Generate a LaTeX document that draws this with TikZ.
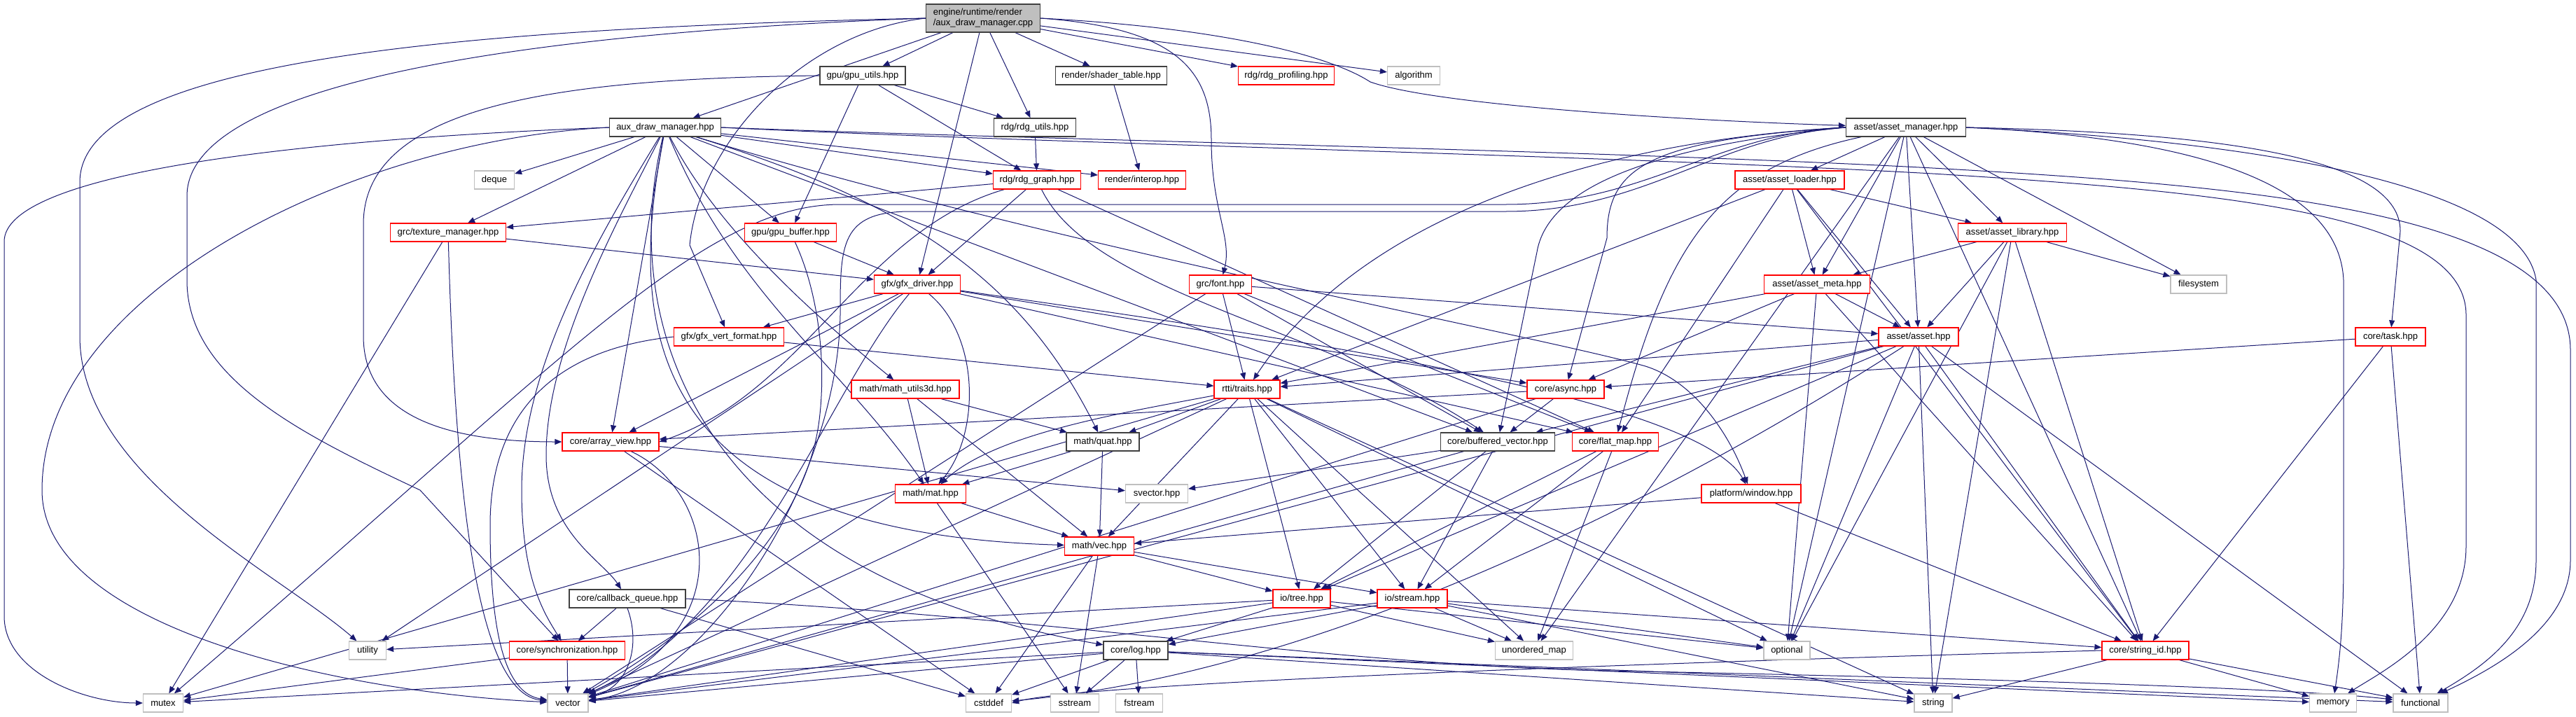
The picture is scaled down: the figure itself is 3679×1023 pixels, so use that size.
\documentclass[tikz,border=0pt]{standalone}
\usepackage{fontspec}
\setmainfont{Liberation Sans}
\usetikzlibrary{arrows.meta}
\definecolor{edgec}{HTML}{191970}
\definecolor{blkc}{HTML}{404040}
\definecolor{sysc}{HTML}{BFBFBF}
\definecolor{redc}{HTML}{FF0000}
\definecolor{rootc}{HTML}{BFBFBF}
\pgfdeclarelayer{bg}
\pgfsetlayers{bg,main}
\tikzset{
  nb/.style={rectangle, draw, fill=white, minimum height=13pt, inner sep=1pt, line width=0.6pt, font=\fontsize{6.5}{7.5}\selectfont},
  blk/.style={nb, draw=blkc},
  trc/.style={nb, draw=redc},
  sys/.style={nb, draw=sysc},
  e/.style={draw=edgec, line width=0.5pt, -{Triangle[length=5pt,width=4pt]}},
}
\begin{document}
\begin{tikzpicture}[x=0.5pt,y=-0.5pt]
\useasboundingbox (0,0) rectangle (3679,1023);
% nodes
\node[blk, fill=rootc, minimum width=81.5pt, minimum height=20pt, align=left] (root) at (1404,26) {engine/runtime/render\\/aux\_draw\_manager.cpp};
\node[blk, minimum width=61pt] (gpuutils) at (1232,108) {gpu/gpu\_utils.hpp};
\node[blk, minimum width=79.5pt] (shader) at (1587,108) {render/shader\_table.hpp};
\node[trc, minimum width=68.5pt] (rdgprof) at (1837,108) {rdg/rdg\_profiling.hpp};
\node[sys, minimum width=37.5pt] (algorithm) at (2019,108) {algorithm};
\node[blk, minimum width=79.5pt] (auxh) at (950,182) {aux\_draw\_manager.hpp};
\node[blk, minimum width=58.5pt] (rdgutils) at (1478,182) {rdg/rdg\_utils.hpp};
\node[blk, minimum width=85.5pt] (assetmgr) at (2722,182) {asset/asset\_manager.hpp};
\node[sys, minimum width=28.5pt] (deque) at (706,257) {deque};
\node[trc, minimum width=62.5pt] (rdggraph) at (1481,257) {rdg/rdg\_graph.hpp};
\node[trc, minimum width=62.5pt] (interop) at (1631,257) {render/interop.hpp};
\node[trc, minimum width=78pt] (assetloader) at (2556,257) {asset/asset\_loader.hpp};
\node[trc, minimum width=82.5pt] (texmgr) at (640,332) {grc/texture\_manager.hpp};
\node[trc, minimum width=65.5pt] (gpubuf) at (1129,332) {gpu/gpu\_buffer.hpp};
\node[trc, minimum width=77.5pt] (assetlib) at (2874,332) {asset/asset\_library.hpp};
\node[trc, minimum width=61.5pt] (gfxdrv) at (1310,406) {gfx/gfx\_driver.hpp};
\node[trc, minimum width=44.5pt] (font) at (1743,406) {grc/font.hpp};
\node[trc, minimum width=75.5pt] (assetmeta) at (2595,406) {asset/asset\_meta.hpp};
\node[sys, minimum width=40pt] (filesystem) at (3140,406) {filesystem};
\node[trc, minimum width=78.5pt] (vertfmt) at (1041,481) {gfx/gfx\_vert\_format.hpp};
\node[trc, minimum width=57pt] (asset) at (2740,481) {asset/asset.hpp};
\node[trc, minimum width=50pt] (task) at (3414,481) {core/task.hpp};
\node[trc, minimum width=77pt] (mu3d) at (1293,556) {math/math\_utils3d.hpp};
\node[trc, minimum width=47pt] (traits) at (1781,556) {rtti/traits.hpp};
\node[trc, minimum width=55pt] (async) at (2236,556) {core/async.hpp};
\node[trc, minimum width=69pt] (arrview) at (872,631) {core/array\_view.hpp};
\node[blk, minimum width=52pt] (quat) at (1575,631) {math/quat.hpp};
\node[blk, minimum width=81.5pt] (bufvec) at (2139,631) {core/buffered\_vector.hpp};
\node[trc, minimum width=61.5pt] (flatmap) at (2307,631) {core/flat\_map.hpp};
\node[trc, minimum width=50.5pt] (mat) at (1329,705) {math/mat.hpp};
\node[sys, minimum width=44.5pt] (svector) at (1652,705) {svector.hpp};
\node[trc, minimum width=71pt] (window) at (2501,705) {platform/window.hpp};
\node[trc, minimum width=49.5pt] (vec) at (1570,780) {math/vec.hpp};
\node[blk, minimum width=83pt] (cbq) at (896,855) {core/callback\_queue.hpp};
\node[trc, minimum width=41pt] (tree) at (1859,855) {io/tree.hpp};
\node[trc, minimum width=50pt] (stream) at (2017,855) {io/stream.hpp};
\node[sys, minimum width=26.5pt] (utility) at (525,929) {utility};
\node[trc, minimum width=82.5pt] (sync) at (810,929) {core/synchronization.hpp};
\node[blk, minimum width=46pt] (log) at (1622,929) {core/log.hpp};
\node[sys, minimum width=55.5pt] (umap) at (2191,929) {unordered\_map};
\node[sys, minimum width=33pt] (optional) at (2552,929) {optional};
\node[trc, minimum width=62pt] (strid) at (3064,929) {core/string\_id.hpp};
\node[sys, minimum width=28.5pt] (mutex) at (233,1004) {mutex};
\node[sys, minimum width=29pt] (vector) at (811,1004) {vector};
\node[sys, minimum width=32.5pt] (cstddef) at (1412,1004) {cstddef};
\node[sys, minimum width=34.5pt] (sstream) at (1535,1004) {sstream};
\node[sys, minimum width=33.5pt] (fstream) at (1627,1004) {fstream};
\node[sys, minimum width=27pt] (string) at (2761,1004) {string};
\node[sys, minimum width=33.5pt] (memory) at (3332,1004) {memory};
\node[sys, minimum width=39pt] (functional) at (3457,1004) {functional};
% edges
\begin{pgfonlayer}{bg}
\foreach \a/\b in {root/gpuutils, root/shader, root/rdgprof, root/algorithm, root/rdgutils, root/gfxdrv, root/auxh,
gpuutils/rdgutils, gpuutils/rdggraph, gpuutils/gpubuf,
shader/interop, rdgutils/rdggraph,
auxh/deque, auxh/texmgr, auxh/gpubuf, auxh/rdggraph, auxh/interop, auxh/arrview, auxh/bufvec,
gfxdrv/vertfmt, gfxdrv/arrview, gfxdrv/async, gfxdrv/flatmap, gfxdrv/utility,
texmgr/gfxdrv, texmgr/mutex,
gpubuf/gfxdrv,
rdggraph/texmgr, rdggraph/gfxdrv, rdggraph/flatmap,
font/asset, font/traits, font/bufvec, font/flatmap, font/vector,
vertfmt/traits,
mu3d/quat, mu3d/mat, mu3d/vec,
traits/quat, traits/vec, traits/tree, traits/stream, traits/umap, traits/optional, traits/string, traits/mutex, traits/vector,
assetmgr/assetloader, assetmgr/assetlib, assetmgr/assetmeta, assetmgr/asset, assetmgr/filesystem, assetmgr/optional, assetmgr/strid, assetmgr/umap,
assetloader/assetlib, assetloader/assetmeta, assetloader/asset, assetloader/traits, assetloader/flatmap, assetloader/strid,
assetlib/assetmeta, assetlib/asset, assetlib/filesystem, assetlib/optional, assetlib/strid, assetlib/string,
assetmeta/asset, assetmeta/traits, assetmeta/async, assetmeta/optional, assetmeta/strid,
asset/traits, asset/bufvec, asset/tree, asset/optional, asset/strid, asset/string, asset/vector, asset/functional,
task/async, task/strid, task/functional,
async/arrview, async/bufvec, async/vector,
arrview/svector, arrview/cstddef,
bufvec/svector, bufvec/tree, bufvec/stream, bufvec/vector,
flatmap/tree, flatmap/stream, flatmap/umap,
quat/mat, quat/vec,
mat/vec, mat/sstream,
vec/tree, vec/stream, vec/cstddef, vec/sstream,
window/vec, window/strid,
cbq/sync, cbq/cstddef,
tree/utility, tree/log, tree/umap, tree/optional, tree/vector,
stream/log, stream/umap, stream/optional, stream/strid, stream/string, stream/vector,
log/mutex, log/vector, log/cstddef, log/sstream, log/fstream, log/string, log/memory, log/functional,
sync/mutex, sync/vector,
strid/string, strid/memory, strid/functional}
  \draw[e] (\a) -- (\b);
% routed edges
\draw[e] (root.west) .. controls (700,40) and (114,80) .. (114,260) -- (114,480) .. controls (114,680) and (400,820) .. (utility);
\draw[e] (root.west) .. controls (800,45) and (267,110) .. (267,280) -- (267,400) .. controls (267,540) and (430,620) .. (600,700) -- (sync);
\draw[e] (root.east) .. controls (1750,40) and (1900,80) .. (1957,117) .. controls (2050,150) and (2400,172) .. (assetmgr);
\draw[e] (root.east) .. controls (1680,40) and (1730,100) .. (1730,200) .. controls (1730,300) and (1760,340) .. (font);
\draw[e] (root.west) .. controls (1150,45) and (1000,200) .. (985,350) -- (vertfmt);
\draw[e] (gpuutils.west) .. controls (800,112) and (519,150) .. (519,320) -- (519,480) .. controls (519,600) and (650,631) .. (arrview);
\draw[e] (auxh.west) .. controls (400,200) and (6,250) .. (6,345) -- (6,880) .. controls (6,960) and (120,1004) .. (mutex);
\draw[e] (auxh.west) .. controls (500,200) and (60,420) .. (60,700) .. controls (60,900) and (500,990) .. (vector);
\draw[e] (auxh) .. controls (1020,320) and (1150,440) .. (mu3d);
\draw[e] (auxh) .. controls (1050,420) and (1200,520) .. (mat);
\draw[e] (auxh) .. controls (1300,290) and (1460,400) .. (quat);
\draw[e] (auxh) .. controls (900,450) and (900,760) .. (vec);
\draw[e] (auxh) .. controls (880,470) and (1000,820) .. (log);
\draw[e] (auxh) .. controls (880,320) and (780,500) .. (780,650) .. controls (780,760) and (860,800) .. (cbq);
\draw[e] (auxh) .. controls (860,330) and (745,520) .. (745,700) .. controls (745,830) and (780,880) .. (sync);
\draw[e] (auxh) .. controls (1500,350) and (2200,480) .. (2350,523) .. controls (2420,545) and (2470,620) .. (window);
\draw[e] (auxh.east) .. controls (1500,200) and (2300,215) .. (2760,240) .. controls (3200,265) and (3671,300) .. (3671,500) -- (3671,800) .. controls (3671,900) and (3550,960) .. (functional);
\draw[e] (auxh.east) .. controls (1500,205) and (2300,222) .. (2760,248) .. controls (3200,275) and (3522,310) .. (3522,450) -- (3522,780) .. controls (3522,900) and (3400,960) .. (memory);
\draw[e] (gfxdrv) .. controls (1180,560) and (1080,880) .. (vector);
\draw[e] (gfxdrv) .. controls (1400,480) and (1400,620) .. (mat);
\draw[e] (gfxdrv) .. controls (1750,470) and (2420,560) .. (window);
\draw[e] (texmgr) .. controls (650,700) and (680,990) .. (vector);
\draw[e] (gpubuf) .. controls (1170,420) and (1180,520) .. (1170,600) .. controls (1150,760) and (1000,900) .. (vector);
\draw[e] (vertfmt.west) .. controls (780,500) and (700,600) .. (700,750) .. controls (700,900) and (720,990) .. (vector);
\draw[e] (arrview) .. controls (1020,700) and (1060,900) .. (vector);
\draw[e] (cbq.south) .. controls (915,920) and (900,980) .. (vector);
\draw[e] (cbq.east) .. controls (1500,880) and (1900,950) .. (2300,958) .. controls (2900,970) and (3300,985) .. (functional);
\draw[e] (rdggraph) .. controls (1560,420) and (1900,470) .. (bufvec);
\draw[e] (rdggraph) .. controls (1230,330) and (1150,560) .. (arrview.east);
\draw[e] (traits) .. controls (1600,590) and (1420,620) .. (mat);
\draw[e] (asset) .. controls (2400,700) and (1900,960) .. (cstddef);
\draw[e] (strid.west) .. controls (2400,945) and (1550,975) .. (cstddef.east);
\draw[e] (assetmgr.west) .. controls (2300,200) and (1950,300) .. (traits);
\draw[e] (assetmgr.west) .. controls (2450,190) and (2350,292) .. (2150,292) -- (1200,292) .. controls (1000,292) and (800,520) .. (mutex);
\draw[e] (assetmgr.west) .. controls (2450,195) and (2350,302) .. (2150,302) -- (1300,302) .. controls (1200,302) and (1200,350) .. (1200,450) .. controls (1195,700) and (1000,980) .. (vector);
\draw[e] (assetmgr.east) .. controls (3200,200) and (3600,260) .. (3622,400) -- (3622,800) .. controls (3622,900) and (3550,950) .. (functional);
\draw[e] (assetmgr.east) .. controls (3100,195) and (3340,250) .. (3347,400) -- (3347,800) .. controls (3347,900) and (3340,950) .. (memory);
\draw[e] (assetmgr.east) .. controls (3200,190) and (3428,230) .. (3428,330) -- (task);
\draw[e] (assetmgr.west) .. controls (2350,200) and (2295,240) .. (2295,340) -- (async);
\draw[e] (assetmgr.west) .. controls (2350,210) and (2210,270) .. (2195,360) -- (bufvec);
\draw[e] (assetmgr) .. controls (2450,240) and (2380,350) .. (flatmap);
\end{pgfonlayer}
\end{tikzpicture}
\end{document}
